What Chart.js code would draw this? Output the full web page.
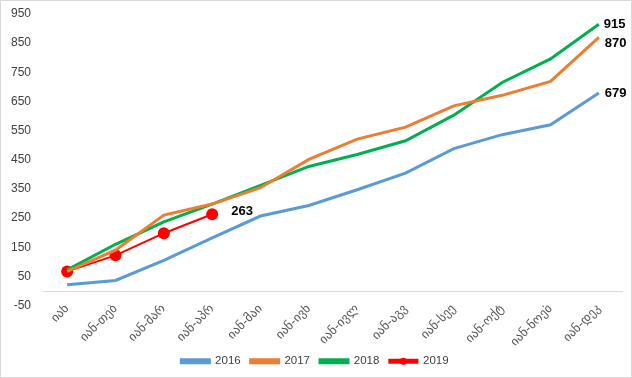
<!DOCTYPE html>
<html>
<head>
<meta charset="utf-8">
<script src="https://cdn.jsdelivr.net/npm/chart.js@4/dist/chart.umd.min.js"></script>
<style>
html,body{margin:0;padding:0;background:#fff;}
#wrap{width:632px;height:378px;box-sizing:border-box;border:1px solid #d9d9d9;background:#fff;}
canvas{display:block;}
</style>
</head>
<body>
<div id="wrap"><canvas id="c" width="630" height="376"></canvas></div>
<script>
const categories = ["იან","იან-თებ","იან-მარ","იან-აპრ","იან-მაი","იან-ივნ","იან-ივლ","იან-აგვ","იან-სექ","იან-ოქტ","იან-ნოემ","იან-დეკ"];
const s2016 = [21, 36, 105, 182, 257, 293, 347, 404, 488, 536, 570, 679];
const s2017 = [67, 140, 260, 298, 354, 451, 521, 562, 635, 671, 719, 870];
const s2018 = [72, 160, 237, 298, 362, 427, 468, 515, 603, 715, 796, 915];
const s2019 = [67, 122, 198, 263];
const seriesNames = ["2016","2017","2018","2019"];
const yMin = -50, yMax = 950, yStep = 100;

const zeroLine = {
  id: 'zeroLine',
  beforeDatasetsDraw(chart) {
    const y = chart.scales.y.getPixelForValue(0);
    const ctx = chart.ctx, a = chart.chartArea;
    ctx.save();
    ctx.strokeStyle = '#d9d9d9';
    ctx.lineWidth = 1;
    ctx.beginPath();
    ctx.moveTo(a.left, Math.round(y) + 0.5);
    ctx.lineTo(a.right, Math.round(y) + 0.5);
    ctx.stroke();
    ctx.restore();
  }
};

const endLabels = {
  id: 'endLabels',
  afterDatasetsDraw(chart) {
    const ctx = chart.ctx;
    ctx.save();
    ctx.font = 'bold 13px "Liberation Sans", Arial, sans-serif';
    ctx.fillStyle = '#000';
    ctx.textBaseline = 'middle';
    ctx.textAlign = 'left';
    const offs = [[6, 0], [6, 6], [5, 0], [19, -3]];
    chart.data.datasets.forEach((ds, i) => {
      const meta = chart.getDatasetMeta(i);
      const last = meta.data[meta.data.length - 1];
      const v = ds.data[ds.data.length - 1];
      ctx.fillText(String(v), last.x + offs[i][0], last.y + offs[i][1]);
    });
    ctx.restore();
  },
  afterDraw(chart) {
    const lg = chart.legend;
    if (!lg || !lg.legendHitBoxes) return;
    const hb = lg.legendHitBoxes[3];
    if (!hb) return;
    const ctx = chart.ctx;
    const bw = lg.options.labels.boxWidth;
    ctx.save();
    ctx.fillStyle = '#FF0000';
    ctx.beginPath();
    ctx.arc(hb.left + bw / 2, hb.top + hb.height / 2, 3.5, 0, Math.PI * 2);
    ctx.fill();
    ctx.restore();
  }
};

new Chart(document.getElementById('c'), {
  type: 'line',
  data: {
    labels: categories,
    datasets: [
      {label: seriesNames[0], data: s2016, borderColor: '#5B9BD5', backgroundColor: '#5B9BD5', borderWidth: 3, pointRadius: 0, tension: 0},
      {label: seriesNames[1], data: s2017, borderColor: '#ED7D31', backgroundColor: '#ED7D31', borderWidth: 3, pointRadius: 0, tension: 0},
      {label: seriesNames[2], data: s2018, borderColor: '#00B050', backgroundColor: '#00B050', borderWidth: 3, pointRadius: 0, tension: 0},
      {label: seriesNames[3], data: s2019, borderColor: '#FF0000', backgroundColor: '#FF0000', borderWidth: 2, pointRadius: 6, pointBackgroundColor: '#FF0000', pointBorderWidth: 0, tension: 0}
    ]
  },
  options: {
    responsive: false,
    animation: false,
    devicePixelRatio: 1,
    layout: {padding: {left: 6, right: 8, top: 13, bottom: 0}},
    plugins: {
      legend: {
        position: 'bottom',
        labels: {
          boxWidth: 28, boxHeight: 3, padding: 10,
          color: '#404040',
          font: {family: '"Liberation Sans", Arial, sans-serif', size: 11.5}
        }
      },
      tooltip: {enabled: false}
    },
    scales: {
      x: {
        offset: true,
        grid: {display: false, drawTicks: false, offset: true},
        border: {display: false},
        ticks: {
          minRotation: 45, maxRotation: 45, autoSkip: false, padding: -4,
          color: '#595959',
          font: {family: '"DejaVu Sans", sans-serif', size: 12.5}
        },
        afterFit(s) { s.height = 40; }
      },
      y: {
        min: yMin, max: yMax,
        grid: {display: false, drawTicks: false},
        border: {display: false},
        ticks: {
          stepSize: yStep, padding: 12,
          color: '#404040',
          font: {family: '"Liberation Sans", Arial, sans-serif', size: 12}
        },
        afterFit(s) { s.width = 36; s.paddingTop = 0; }
      }
    }
  },
  plugins: [zeroLine, endLabels]
});
</script>
</body>
</html>
